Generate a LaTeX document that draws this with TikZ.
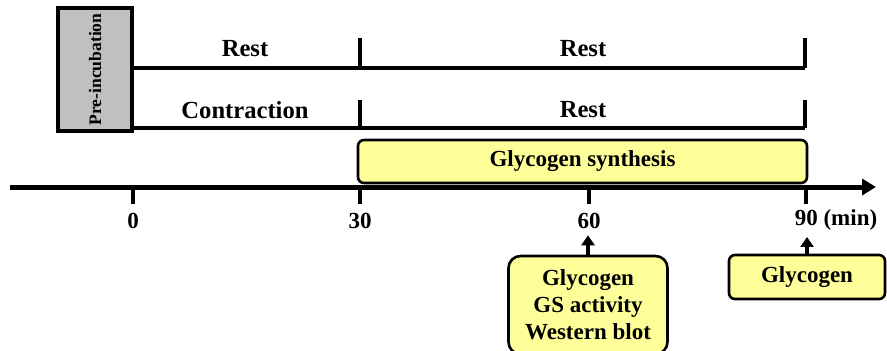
\documentclass[tikz,border=0pt]{standalone}
\usepackage{fontspec}
\setmainfont{Liberation Serif}
\usetikzlibrary{arrows.meta}

\definecolor{synYellow}{HTML}{FFFF99}
\definecolor{preGray}{HTML}{C0C0C0}

\tikzset{
  phase/.style={line width=1.8pt},
  stage/.style={font=\fontsize{12.3}{14}\selectfont\bfseries},
  tlabel/.style={anchor=base, font=\fontsize{11.5}{13}\selectfont\bfseries},
  yellowbox/.style={draw, line width=1.3pt, fill=synYellow, rounded corners=3pt,
    align=center, font=\fontsize{11.5}{13.5}\selectfont\bfseries},
  upArrow/.style={line width=1.6pt, -{Triangle[length=5pt,width=6.5pt]}}
}

\begin{document}
\begin{tikzpicture}[x=0.5pt,y=-0.5pt]
	\useasboundingbox (0,0) rectangle (887,350);
	% pre-incubation block
	\node[draw, line width=1.8pt, fill=preGray, rotate=90, minimum width=61.5pt, minimum height=37pt,
	      inner sep=0pt, font=\fontsize{8.8}{10}\selectfont\bfseries] (preinc) at (95,69.5) {Pre-incubation};
	% the two protocols
	\draw[phase] (132,68) -- (805,68);
	\draw[phase] (132,128) -- (805,128);
	\foreach \x in {360,805} {
		\draw[phase] (\x,38) -- (\x,68);
		\draw[phase] (\x,100) -- (\x,128);
	}
	\node[stage] (restA)  at (245,49)  {Rest};
	\node[stage] (restB)  at (583,49)  {Rest};
	\node[stage] (contr)  at (245,110) {Contraction};
	\node[stage] (restC)  at (583,110) {Rest};
	\node[yellowbox, minimum width=224.5pt, minimum height=21.5pt] (synth) at (582.5,161.5) {Glycogen synthesis};
	% time axis
	\coordinate (axstart) at (10,187);
	\coordinate (axend) at (876,187);
	\draw[line width=2.5pt, -{Triangle[length=7pt,width=8pt]}] (axstart) -- (axend);
	\foreach \x/\t in {133/0, 360/30, 589/60} {
		\draw[line width=2.2pt] (\x,187) -- (\x,204);
		\node[tlabel] (t\t) at (\x,228) {\t};
	}
	\draw[line width=2.2pt] (806,187) -- (806,204);
	\node[tlabel] (t90) at (836,225) {90 (min)};
	% sampling points
	\node[yellowbox, rounded corners=6pt, minimum width=79.5pt, minimum height=49pt] (meas60) at (588,305)
	     {Glycogen\\GS activity\\Western blot};
	\node[yellowbox, minimum width=78pt, minimum height=22pt] (meas90) at (807,277) {Glycogen};
	\draw[upArrow] (meas60.north) -- (meas60.north |- t60.south);
	\draw[upArrow] (meas90.north) -- (meas90.north |- t90.south);
\end{tikzpicture}
\end{document}
